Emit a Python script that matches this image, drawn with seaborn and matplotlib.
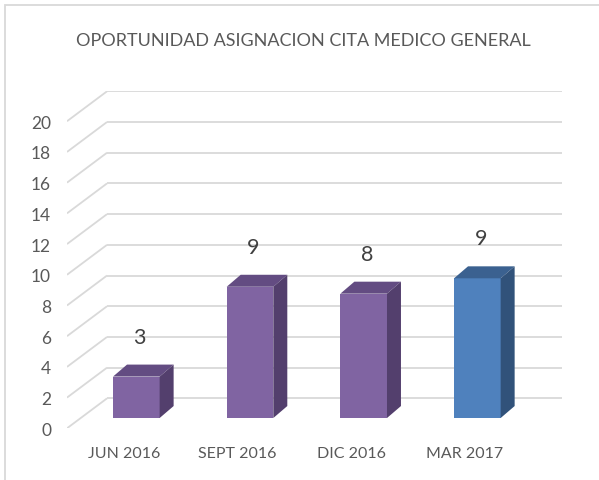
import matplotlib
matplotlib.use("Agg")
import matplotlib.pyplot as plt
import matplotlib.transforms as mtransforms
from matplotlib.patches import Polygon, Rectangle
import seaborn as sns

# DATOS
meses = ["JUN 2016", "SEPT 2016", "DIC 2016", "MAR 2017"]
valores = [2.7, 8.55, 8.1, 9.1]
colores_frente = ["#8064A2", "#8064A2", "#8064A2", "#4F81BD"]
colores_arriba = ["#634C82", "#634C82", "#634C82", "#3B6190"]
colores_lado = ["#533F6D", "#533F6D", "#533F6D", "#31527A"]
ticks_y = list(range(0, 21, 2))
titulo = "OPORTUNIDAD ASIGNACION CITA MEDICO GENERAL"

# efecto 3D (en unidades de datos)
PARED_DX, PARED_DY = 0.352, 1.95      # profundidad de la pared del fondo
BARRA_OX, BARRA_OY = 0.11, 0.67       # desplazamiento de la cara frontal
BARRA_DX, BARRA_DY = 0.123, 0.78      # profundidad de la barra
GRIS = "#D9D9D9"

sns.set_style("white")
plt.rcParams['font.family'] = ['Lato', 'DejaVu Sans']

fig = plt.figure(figsize=(5.99, 4.81), dpi=100)
ax = fig.add_axes([67 / 599, 1 - 429.3 / 481, 494.7 / 599, 337 / 481])

sns.barplot(x=meses, y=valores, hue=meses, palette=colores_frente, legend=False,
            width=0.41, saturation=1, ax=ax, zorder=3, edgecolor="none")

ax.set_xlim(-0.5, 3.5 + PARED_DX)
ax.set_ylim(0, 20 + PARED_DY)

# rejilla: lineas inclinadas del piso lateral + pared del fondo
for v in ticks_y:
    ax.plot([-0.5, -0.5 + PARED_DX], [v, v + PARED_DY], color=GRIS, lw=1.3, zorder=1,
            solid_capstyle="butt")
    ax.plot([-0.5 + PARED_DX, 3.5 + PARED_DX], [v + PARED_DY] * 2, color=GRIS, lw=1.3,
            zorder=1, solid_capstyle="butt")

desplaza = mtransforms.Affine2D().translate(BARRA_OX, BARRA_OY) + ax.transData
for i, p in enumerate(ax.patches[:len(valores)]):
    p.set_transform(desplaza)
    x0 = p.get_x() + BARRA_OX
    w = p.get_width()
    y0 = BARRA_OY
    y1 = p.get_height() + BARRA_OY
    arriba = Polygon([(x0, y1), (x0 + BARRA_DX, y1 + BARRA_DY),
                      (x0 + w + BARRA_DX, y1 + BARRA_DY), (x0 + w, y1)],
                     closed=True, facecolor=colores_arriba[i], edgecolor="none", zorder=3)
    lado = Polygon([(x0 + w, y0), (x0 + w + BARRA_DX, y0 + BARRA_DY),
                    (x0 + w + BARRA_DX, y1 + BARRA_DY), (x0 + w, y1)],
                   closed=True, facecolor=colores_lado[i], edgecolor="none", zorder=3)
    ax.add_patch(arriba)
    ax.add_patch(lado)
    ax.text(x0 + w / 2 + 0.03, y1 + 2.6, f"{valores[i]:.0f}", ha="center", va="center",
            fontsize=15.5, color="#404040")

ax.set_yticks(ticks_y)
ax.set_yticklabels([str(t) for t in ticks_y])
ax.tick_params(axis="y", length=0, pad=11.5, labelsize=12.5, labelcolor="#595959")
ax.tick_params(axis="x", length=0, pad=13, labelsize=11.5, labelcolor="#595959")
ax.set_xlabel("")
ax.set_ylabel("")
for s in ax.spines.values():
    s.set_visible(False)
ax.grid(False)

fig.text(303.5 / 599, 1 - 41 / 481, titulo, ha="center", va="center",
         fontsize=13, color="#595959")

# marco del grafico (recortado a la derecha y abajo)
fig.add_artist(Rectangle((5 / 599, -0.2), 1.2, 1.2 - 6 / 481,
                         transform=fig.transFigure, fill=False, edgecolor=GRIS, lw=1.3))

fig.savefig("out.png", dpi=100)
